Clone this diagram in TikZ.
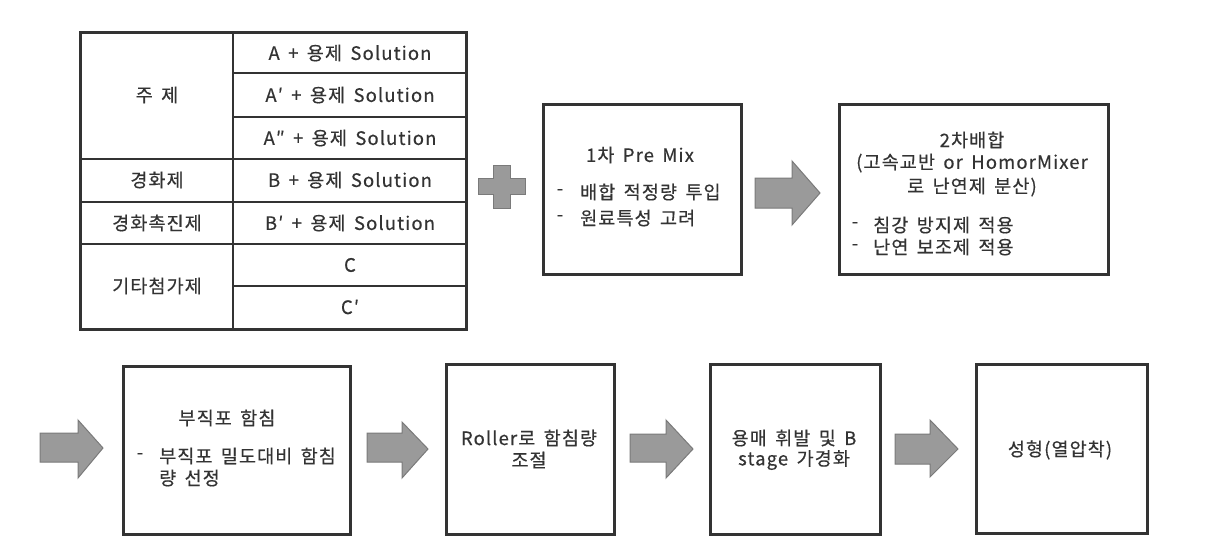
\documentclass[tikz,border=0pt]{standalone}
\usepackage{fontspec}
\setmainfont{Noto Sans CJK KR}[FakeBold=0.4,LetterSpace=6,WordSpace=1.6]
\definecolor{boxc}{HTML}{333333}
\definecolor{txtc}{HTML}{333333}
\definecolor{arrf}{HTML}{9A9A9A}
\definecolor{arrd}{HTML}{7A7A7A}
\begin{document}
\begin{tikzpicture}[x=1pt,y=-1pt,
  box/.style={draw=boxc,line width=2.5pt,anchor=north west,inner sep=0pt},
  tline/.style={draw=boxc,line width=1.3pt},
  txt/.style={text=txtc,font=\fontsize{18.5}{22}\selectfont,inner sep=0pt},
  barrow/.style={fill=arrf,draw=arrd,line width=1pt,line join=miter}]
\useasboundingbox (0,0) rectangle (1217,550);
\fill[white] (0,0) rectangle (1217,550);
% table
\draw[tline] (233,32) -- (233,329);
\draw[tline] (233,73) -- (466,73);
\draw[tline] (233,117) -- (466,117);
\draw[tline] (80,159) -- (466,159);
\draw[tline] (80,202) -- (466,202);
\draw[tline] (80,244) -- (466,244);
\draw[tline] (233,286) -- (466,286);
\draw[draw=boxc,line width=3pt] (80,32) rectangle (466,329);
\node[txt] (l1) at (157,95) {주 제};
\node[txt] (l2) at (157,180) {경화제};
\node[txt] (l3) at (157,223) {경화촉진제};
\node[txt] (l4) at (157,286) {기타첨가제};
\node[txt] (r1) at (350,53) {A + 용제 Solution};
\node[txt] (r2) at (350,95) {A′ + 용제 Solution};
\node[txt] (r3) at (350,138) {A″ + 용제 Solution};
\node[txt] (r4) at (350,180) {B + 용제 Solution};
\node[txt] (r5) at (350,223) {B′ + 용제 Solution};
\node[txt] (r6) at (350,265) {C};
\node[txt] (r7) at (350,307) {C′};
% plus
\draw[barrow] (493,165) -- (510,165) -- (510,178) -- (525,178) -- (525,194) -- (510,194) -- (510,208) -- (493,208) -- (493,194) -- (478,194) -- (478,178) -- (493,178) -- cycle;
% boxes
\node[box,minimum width=198pt,minimum height=170pt] (b1) at (542,103) {};
\node[box,minimum width=269pt,minimum height=170pt] (b2) at (838,103) {};
\node[box,minimum width=227pt,minimum height=168pt] (b3) at (122,365) {};
\node[box,minimum width=168pt,minimum height=170pt] (b4) at (445,363) {};
\node[box,minimum width=170pt,minimum height=170pt] (b5) at (709,363) {};
\node[box,minimum width=171pt,minimum height=169pt] (b6) at (975,363) {};
% box texts
\node[txt] (t1) at (640,155) {1차 Pre Mix};
\node[txt] (d1a) at (560,192) {-};
\node[txt,anchor=west] (t1a) at (580,192) {배합 적정량 투입};
\node[txt] (d1b) at (560,218) {-};
\node[txt,anchor=west] (t1b) at (580,218) {원료특성 고려};
\node[txt] (t2a) at (972,140) {2차배합};
\node[txt] (t2b) at (972,163) {(고속교반 or HomorMixer};
\node[txt] (t2c) at (972,187) {로 난연제 분산)};
\node[txt] (d2a) at (855,225) {-};
\node[txt,anchor=west] (t2d) at (873,225) {침강 방지제 적용};
\node[txt] (d2b) at (855,247) {-};
\node[txt,anchor=west] (t2e) at (873,247) {난연 보조제 적용};
\node[txt] (t3) at (227,418) {부직포 함침};
\node[txt] (d3) at (140,456) {-};
\node[txt,anchor=west] (t3a) at (159,456) {부직포 밀도대비 함침};
\node[txt,anchor=west] (t3b) at (159,478) {량 선정};
\node[txt] (t4a) at (529,438) {Roller로 함침량};
\node[txt] (t4b) at (529,460) {조절};
\node[txt] (t5a) at (794,438) {용매 휘발 및 B};
\node[txt] (t5b) at (794,460) {stage 가경화};
\node[txt] (t6) at (1060,450) {성형(열압착)};
% block arrows
\draw[barrow] (755,178) -- (792,178) -- (792,161) -- (820,193) -- (792,225) -- (792,208) -- (755,208) -- cycle;
\draw[barrow] (40,433) -- (78,433) -- (78,420) -- (103,448) -- (78,478) -- (78,462) -- (40,462) -- cycle;
\draw[barrow] (367,433) -- (402,433) -- (402,422) -- (428,449) -- (402,478) -- (402,462) -- (367,462) -- cycle;
\draw[barrow] (630,434) -- (666,434) -- (666,420) -- (693,449) -- (666,478) -- (666,462) -- (630,462) -- cycle;
\draw[barrow] (895,434) -- (930,434) -- (930,420) -- (958,449) -- (930,477) -- (930,464) -- (895,464) -- cycle;
\end{tikzpicture}
\end{document}
